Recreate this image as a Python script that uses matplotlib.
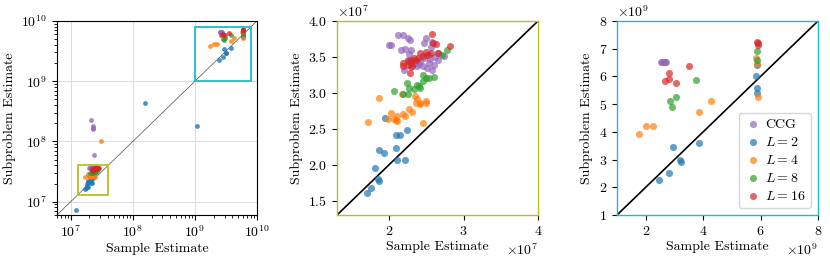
import matplotlib
matplotlib.use("Agg")
import matplotlib.pyplot as plt
import numpy as np
from matplotlib.patches import Rectangle

plt.rcParams.update({
    "font.family": "serif",
    "font.serif": ["cmr10", "DejaVu Serif"],
    "mathtext.fontset": "cm",
    "axes.formatter.use_mathtext": True,
    "axes.unicode_minus": False,
    "font.size": 10,
})

# ---------------- data ----------------
labels = ["CCG", r"$L=2$", r"$L=4$", r"$L=8$", r"$L=16$"]
colors = ["tab:purple", "tab:blue", "tab:orange", "tab:green", "tab:red"]

# small instances (units of 1e7)
ccg_sx = [2.00, 2.02, 2.12, 2.19, 2.26, 2.28, 2.49, 2.47, 2.16, 2.22, 2.29, 2.27, 2.20,
          2.74, 2.56, 2.58, 2.60, 2.54, 2.42, 2.38, 2.51, 2.58, 2.65, 2.33, 2.25, 2.47,
          2.54, 2.65, 2.40, 2.30, 2.35, 2.45, 2.55, 2.62]
ccg_sy = [3.67, 3.67, 3.80, 3.81, 3.76, 3.73, 3.77, 3.70, 3.60, 3.61, 3.60, 3.54, 3.32,
          3.51, 3.64, 3.71, 3.39, 3.41, 3.44, 3.37, 3.35, 3.32, 3.46, 3.44, 3.46, 3.48,
          3.53, 3.55, 3.40, 3.36, 3.42, 3.38, 3.47, 3.50]
l2_sx = [1.70, 1.76, 1.85, 1.86, 1.81, 1.87, 1.93, 1.94, 2.09, 2.09, 2.15, 2.11, 2.21, 2.24]
l2_sy = [1.61, 1.68, 1.80, 1.78, 1.95, 2.21, 2.16, 2.65, 2.23, 2.42, 2.42, 2.06, 2.06, 2.48]
l4_sx = [1.72, 1.87, 1.99, 2.03, 2.07, 2.10, 2.09, 2.18, 2.21, 2.17, 2.27, 2.31, 2.35,
         2.38, 2.42, 2.36, 2.42, 2.50, 2.50, 2.46, 2.11]
l4_sy = [2.60, 2.93, 2.64, 2.72, 2.64, 2.68, 2.62, 2.70, 2.68, 2.98, 2.78, 2.73, 2.95,
         2.91, 2.86, 2.86, 2.84, 2.86, 2.88, 2.58, 2.61]
l8_sx = [2.07, 2.24, 2.27, 2.33, 2.38, 2.42, 2.46, 2.49, 2.46, 2.54, 2.60, 2.19, 2.25,
         2.40, 2.78, 2.71]
l8_sy = [3.02, 3.14, 3.07, 3.05, 3.11, 3.07, 3.25, 3.21, 3.16, 3.20, 3.22, 2.99, 2.98,
         3.09, 3.59, 3.53]
l16_sx = [2.58, 2.59, 2.63, 2.82, 2.65, 2.56, 2.51, 2.45, 2.39, 2.33, 2.29, 2.25, 2.19,
          2.19, 2.29, 2.36, 2.28, 2.49, 2.42, 2.25, 2.31]
l16_sy = [3.82, 3.70, 3.68, 3.65, 3.56, 3.55, 3.53, 3.51, 3.48, 3.48, 3.46, 3.44, 3.42,
          3.37, 3.41, 3.46, 3.28, 3.57, 3.55, 3.39, 3.37]

# large instances (units of 1e9)
ccg_lx = [2.52, 2.57, 2.62, 2.67, 2.72]
ccg_ly = [6.52, 6.52, 6.52, 6.52, 6.52]
l2_lx = [2.45, 2.80, 2.94, 3.18, 3.22, 3.85, 5.85, 5.88, 5.88, 5.86]
l2_ly = [2.26, 2.50, 3.47, 2.99, 2.90, 3.59, 6.02, 5.60, 5.42, 6.42]
l4_lx = [1.76, 2.00, 2.27, 3.87, 4.26, 5.84, 5.88, 5.90]
l4_ly = [3.91, 4.21, 4.21, 4.73, 5.13, 6.65, 6.45, 5.27]
l8_lx = [2.85, 2.90, 3.04, 3.75, 5.86, 5.88]
l8_ly = [5.12, 4.91, 5.24, 5.87, 6.90, 6.60]
l16_lx = [2.82, 2.66, 2.82, 3.06, 3.52, 5.86, 5.90, 5.92]
l16_ly = [6.11, 5.85, 5.91, 5.75, 6.39, 7.26, 7.20, 7.15]

# outliers (absolute values)
ccg_ox = [2.08e7, 2.30e7, 2.25e7, 2.30e7, 2.35e7]
ccg_oy = [2.30e8, 1.80e8, 1.60e8, 1.70e8, 5.90e7]
l2_ox = [1.57e8, 1.10e9, 1.23e7]
l2_oy = [4.30e8, 1.80e8, 7.20e6]
l4_ox = [3.10e7]
l4_oy = [1.02e8]

small_x = [ccg_sx, l2_sx, l4_sx, l8_sx, l16_sx]
small_y = [ccg_sy, l2_sy, l4_sy, l8_sy, l16_sy]
large_x = [ccg_lx, l2_lx, l4_lx, l8_lx, l16_lx]
large_y = [ccg_ly, l2_ly, l4_ly, l8_ly, l16_ly]
out_x = [ccg_ox, l2_ox, l4_ox, [], []]
out_y = [ccg_oy, l2_oy, l4_oy, [], []]

small_lim = (1.3e7, 4e7)
large_lim = (1e9, 8e9)
full_lim = (6e6, 1e10)

olive = "#bcbd22"
cyan = "#17becf"

fig = plt.figure(figsize=(8.3, 2.61), dpi=100)
ax1 = fig.add_axes([57/830, 1 - 215/261, 200/830, 194/261])
ax2 = fig.add_axes([337/830, 1 - 215/261, 201/830, 194/261])
ax3 = fig.add_axes([617/830, 1 - 215/261, 201/830, 194/261])

# ---- panel 1 ----
for i in range(5):
    xs = np.concatenate([np.array(small_x[i]) * 1e7, np.array(large_x[i]) * 1e9, np.array(out_x[i], dtype=float)])
    ys = np.concatenate([np.array(small_y[i]) * 1e7, np.array(large_y[i]) * 1e9, np.array(out_y[i], dtype=float)])
    ax1.scatter(xs, ys, s=12, color=colors[i], alpha=0.8, linewidths=0, zorder=3)
ax1.set_xscale("log")
ax1.set_yscale("log")
ax1.set_xlim(full_lim)
ax1.set_ylim(full_lim)
ax1.plot(full_lim, full_lim, color="black", lw=0.5, alpha=0.7, zorder=2)
ax1.grid(True, color="#dddddd", lw=0.8, which="major", zorder=0)
ax1.set_axisbelow(True)
ax1.add_patch(Rectangle((small_lim[0], small_lim[0]), small_lim[1] - small_lim[0], small_lim[1] - small_lim[0],
                        fill=False, edgecolor=olive, lw=1.3, zorder=4))
ax1.add_patch(Rectangle((large_lim[0], large_lim[0]), large_lim[1] - large_lim[0], large_lim[1] - large_lim[0],
                        fill=False, edgecolor=cyan, lw=1.3, zorder=4))
ax1.set_xlabel("Sample Estimate", labelpad=2)
ax1.set_ylabel("Subproblem Estimate", labelpad=4)

# ---- panel 2 ----
for i in range(5):
    ax2.scatter(np.array(small_x[i]) * 1e7, np.array(small_y[i]) * 1e7, s=26, color=colors[i],
                alpha=0.7, linewidths=0, zorder=3)
ax2.plot(small_lim, small_lim, color="black", lw=1.2, zorder=2)
ax2.set_xlim(small_lim)
ax2.set_ylim(small_lim)
ax2.set_xticks([2e7, 3e7, 4e7])
ax2.set_yticks([1.5e7, 2.0e7, 2.5e7, 3.0e7, 3.5e7, 4.0e7])
for sp in ax2.spines.values():
    sp.set_edgecolor(olive)
    sp.set_linewidth(1.0)
ax2.set_xlabel("Sample Estimate", labelpad=2)
ax2.set_ylabel("Subproblem Estimate", labelpad=4)

# ---- panel 3 ----
for i in range(5):
    ax3.scatter(np.array(large_x[i]) * 1e9, np.array(large_y[i]) * 1e9, s=26, color=colors[i],
                alpha=0.7, linewidths=0, zorder=3, label=labels[i])
ax3.plot(large_lim, large_lim, color="black", lw=1.2, zorder=2)
ax3.set_xlim(large_lim)
ax3.set_ylim(large_lim)
ax3.set_xticks([2e9, 4e9, 6e9, 8e9])
ax3.set_yticks([1e9, 2e9, 3e9, 4e9, 5e9, 6e9, 7e9, 8e9])
for sp in ax3.spines.values():
    sp.set_edgecolor(cyan)
    sp.set_linewidth(1.0)
ax3.set_xlabel("Sample Estimate", labelpad=2)
ax3.set_ylabel("Subproblem Estimate", labelpad=4)
ax3.legend(loc="lower right", fontsize=10, handletextpad=0.3, borderpad=0.4,
           labelspacing=0.35, handlelength=1.2, markerscale=1.0)

fig.savefig("out.png", dpi=100)
